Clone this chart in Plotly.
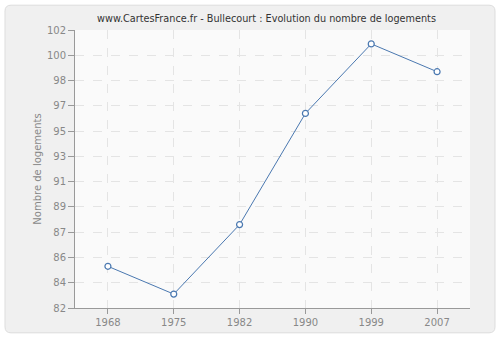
import plotly.graph_objects as go

years = ["1968", "1975", "1982", "1990", "1999", "2007"]
logements = [85, 83, 88, 96, 101, 99]
y_min, y_max = 82, 102
tick_labels = ["82", "84", "86", "87", "89", "91", "93", "95", "97", "98", "100", "102"]

n = len(tick_labels) - 1
tick_vals = [y_min + k * (y_max - y_min) / n for k in range(n + 1)]

L, R, T, B = 75, 30, 30, 30
W, H = 500, 340
pw, ph = W - L - R, H - T - B

def px(x):
    return (x - L) / pw

def py(y):
    return (H - B - y) / ph

x0, x1, y0, y1, r = 5, 495, 5, 335, 6
path = (
    f"M {px(x0+r)},{py(y0)} L {px(x1-r)},{py(y0)} Q {px(x1)},{py(y0)} {px(x1)},{py(y0+r)} "
    f"L {px(x1)},{py(y1-r)} Q {px(x1)},{py(y1)} {px(x1-r)},{py(y1)} "
    f"L {px(x0+r)},{py(y1)} Q {px(x0)},{py(y1)} {px(x0)},{py(y1-r)} "
    f"L {px(x0)},{py(y0+r)} Q {px(x0)},{py(y0)} {px(x0+r)},{py(y0)} Z"
)

FONT = "DejaVu Sans"

fig = go.Figure()
fig.add_trace(go.Scatter(
    x=years, y=logements, mode="lines+markers",
    line=dict(color="#4a78b0", width=1),
    marker=dict(symbol="circle", size=6, color="white",
                line=dict(color="#4a78b0", width=1.2)),
    hoverinfo="x+y", showlegend=False,
))

fig.update_layout(
    width=W, height=H,
    margin=dict(l=L, r=R, t=T, b=B),
    paper_bgcolor="white",
    plot_bgcolor="#fafafa",
    font=dict(family=FONT, size=10, color="#888888"),
    title=dict(text="www.CartesFrance.fr - Bullecourt : Evolution du nombre de logements",
               x=266.5 / W, xanchor="center", y=1 - 18.5 / H, yanchor="middle",
               font=dict(size=9.7, color="#333333", family=FONT)),
    shapes=[
        dict(type="path", path=path, xref="paper", yref="paper",
             fillcolor="#f0f0f0", line=dict(color="#dddddd", width=1),
             layer="below"),
        dict(type="rect", x0=0, x1=1, y0=0, y1=1, xref="paper", yref="paper",
             fillcolor="#fafafa", line=dict(width=0), layer="below"),
    ],
)
fig.update_xaxes(
    type="category", range=[-0.5, len(years) - 0.5],
    showline=True, linecolor="#999999", linewidth=1,
    ticks="outside", ticklen=5, tickcolor="#999999",
    showgrid=True, gridcolor="#e4e4e4", griddash="dash", gridwidth=1,
    tickfont=dict(size=10, color="#888888"),
    zeroline=False,
)
fig.update_yaxes(
    range=[y_min, y_max], tickvals=tick_vals, ticktext=tick_labels,
    showline=True, linecolor="#999999", linewidth=1,
    ticks="outside", ticklen=6, tickcolor="#999999",
    showgrid=True, gridcolor="#e4e4e4", griddash="dash", gridwidth=1,
    tickfont=dict(size=10, color="#888888"),
    title=dict(text="Nombre de logements", font=dict(size=10, color="#888888"), standoff=3),
    zeroline=False,
)

fig.write_html("out.html")
